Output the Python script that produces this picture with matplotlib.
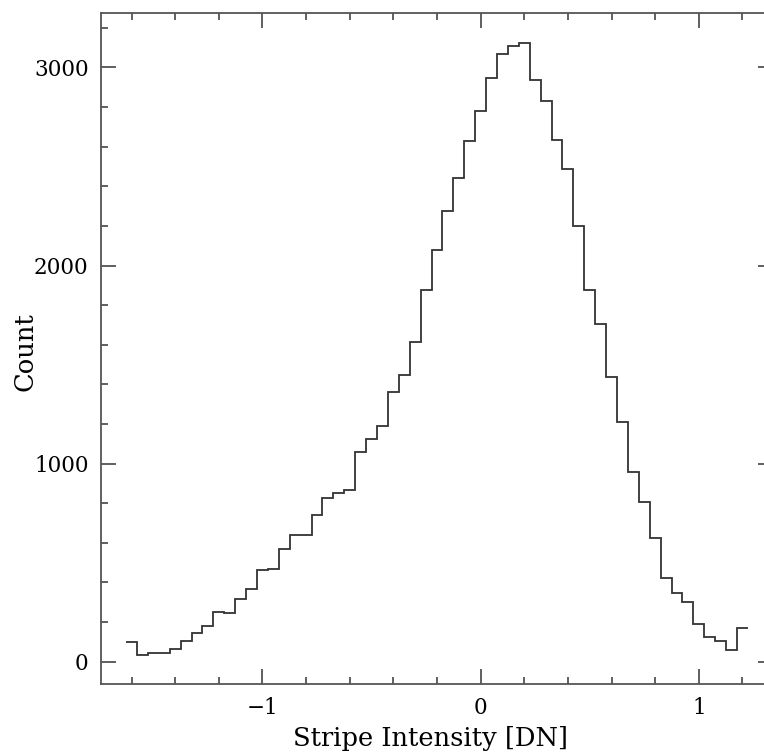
import numpy as np
import matplotlib
matplotlib.use("Agg")
import matplotlib.pyplot as plt
from matplotlib.ticker import MultipleLocator

# histogram of stripe intensity, bins of 0.05 DN
bin_lo = -1.625
bin_hi = 1.225
counts = [101, 35, 45, 43, 62, 104, 146, 182, 252, 248,
          317, 365, 463, 468, 567, 640, 640, 742, 827, 852,
          865, 1061, 1126, 1190, 1362, 1446, 1613, 1877, 2079, 2273,
          2444, 2628, 2781, 2946, 3066, 3107, 3121, 2934, 2828, 2631,
          2485, 2197, 1877, 1705, 1436, 1211, 960, 808, 626, 424,
          347, 301, 188, 125, 104, 61, 168]
edges = np.linspace(bin_lo, bin_hi, len(counts) + 1)

plt.rcParams["font.family"] = "DejaVu Serif"

fig = plt.figure(figsize=(7.64, 7.52), dpi=100)
ax = fig.add_axes([0.1322, 0.090, 0.8796, 0.8931])

ax.stairs(counts, edges, baseline=None, color="#333333", lw=1.3)

ax.set_xlim(-1.74, 1.34)
ax.set_ylim(-114, 3276)

ax.xaxis.set_major_locator(MultipleLocator(1))
ax.xaxis.set_minor_locator(MultipleLocator(0.2))
ax.yaxis.set_major_locator(MultipleLocator(1000))
ax.yaxis.set_minor_locator(MultipleLocator(200))
ax.tick_params(which="both", direction="in", top=True, right=True,
               color="#444444", width=1.2)
ax.tick_params(which="major", length=11, labelsize=15.5, pad=9)
ax.tick_params(which="minor", length=5)
for s in ax.spines.values():
    s.set_color("#555555")
    s.set_linewidth(1.3)

ax.set_xlabel("Stripe Intensity [DN]", fontsize=18.5)
ax.set_ylabel("Count", fontsize=18.5)
ax.xaxis.set_label_coords(0.491, -0.062)
ax.yaxis.set_label_coords(-0.094, 0.495)

fig.savefig("out.png", dpi=100)
